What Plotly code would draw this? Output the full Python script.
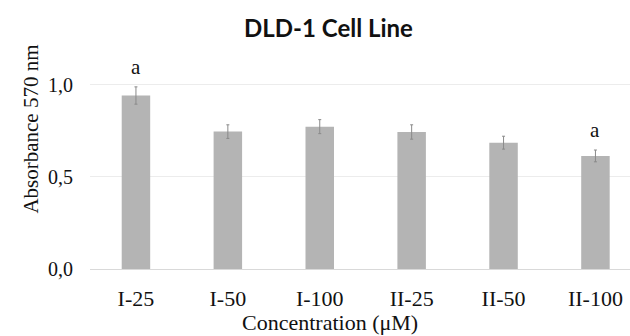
import plotly.graph_objects as go

categories = ["I-25", "I-50", "I-100", "II-25", "II-50", "II-100"]
absorbance = [0.942, 0.746, 0.773, 0.744, 0.686, 0.614]
errors = [0.047, 0.037, 0.038, 0.039, 0.035, 0.032]
sig_labels = ["a", "", "", "", "", "a"]
y_ticks = [0.0, 0.5, 1.0]
y_tick_text = ["0,0", "0,5", "1,0"]

serif = "Liberation Serif, Times New Roman, serif"

fig = go.Figure()
fig.add_trace(go.Bar(
    x=categories, y=absorbance, width=0.31,
    marker=dict(color="#b4b4b4", line=dict(width=0)),
    error_y=dict(type="data", array=errors, visible=True,
                 color="#8a8a8a", thickness=1, width=1.5),
    hoverinfo="skip",
))

for c, v, e, lab in zip(categories, absorbance, errors, sig_labels):
    if lab:
        fig.add_annotation(x=c, y=v + e, text=lab, showarrow=False,
                           yanchor="middle", yshift=20,
                           font=dict(family=serif, size=21, color="#111"))

fig.add_annotation(xref="paper", yref="paper", x=-0.111, y=0.631,
                   text="Absorbance 570 nm", textangle=-90, showarrow=False,
                   xanchor="center", yanchor="middle",
                   font=dict(family=serif, size=21, color="#111"))
fig.add_annotation(xref="paper", yref="paper", x=0.444, y=-0.243,
                   text="Concentration (μM)", showarrow=False,
                   xanchor="center", yanchor="middle",
                   font=dict(family=serif, size=22, color="#111"))

fig.update_layout(
    width=630, height=336,
    margin=dict(l=90, r=0, t=48, b=67, autoexpand=False),
    paper_bgcolor="white", plot_bgcolor="white",
    showlegend=False,
    title=dict(text="<b>DLD-1 Cell Line</b>", x=0.5214, xref="container",
               xanchor="center", y=1 - 28.5 / 336, yref="container", yanchor="middle",
               font=dict(family="Lato, Roboto, sans-serif", size=24, color="#111")),
    xaxis=dict(range=[-0.5, 5.376], showgrid=False, showline=False, zeroline=False,
               ticks="", ticklabelstandoff=14,
               tickfont=dict(family=serif, size=22, color="#111")),
    yaxis=dict(range=[0, 1.2], tickvals=y_ticks, ticktext=y_tick_text,
               showgrid=True, gridcolor="#ececec", gridwidth=1,
               zeroline=True, zerolinecolor="#d9d9d9", zerolinewidth=1,
               showline=False, ticks="", ticklabelstandoff=16,
               tickfont=dict(family=serif, size=20, color="#111")),
)

fig.write_html("out.html", config={"displayModeBar": False},
               post_script="document.body.style.margin='0';document.body.style.overflow='hidden';")
